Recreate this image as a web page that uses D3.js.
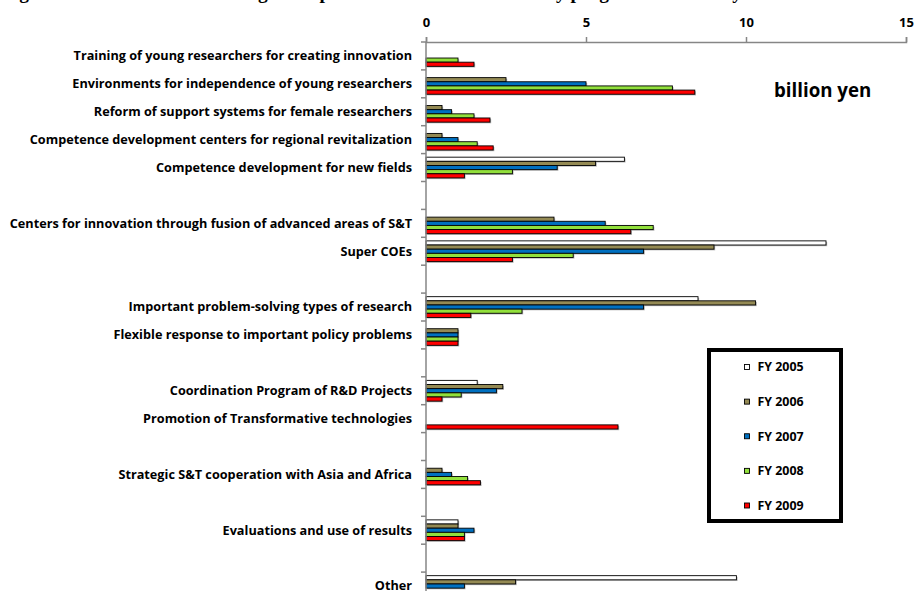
<!DOCTYPE html>
<html>
<head>
<meta charset="utf-8">
<script src="https://cdn.jsdelivr.net/npm/d3@7"></script>
<style>
  html, body { margin: 0; padding: 0; background: #fff; }
  svg { display: block; }
</style>
</head>
<body>
<div id="chart"></div>
<script>
// Programs of the Special Coordination Funds (blank entries are spacer rows between groups)
const categories = [
  "Training of young researchers for creating innovation",
  "Environments for independence of young researchers",
  "Reform of support systems for female researchers",
  "Competence development centers for regional revitalization",
  "Competence development for new fields",
  "",
  "Centers for innovation through fusion of advanced areas of S&T",
  "Super COEs",
  "",
  "Important problem-solving types of research",
  "Flexible response to important policy problems",
  "",
  "Coordination Program of R&D Projects",
  "Promotion of Transformative technologies",
  "",
  "Strategic S&T cooperation with Asia and Africa",
  "",
  "Evaluations and use of results",
  "",
  "Other"
];

// Budget per fiscal year, billion yen (null = no bar)
const fy2005 = [null, null, null, null, 6.2, null, null, 12.5, null, 8.5, null, null, 1.6, null, null, null, null, 1.0, null, 9.7];
const fy2006 = [null, 2.5, 0.5, 0.5, 5.3, null, 4.0, 9.0, null, 10.3, 1.0, null, 2.4, null, null, 0.5, null, 1.0, null, 2.8];
const fy2007 = [null, 5.0, 0.8, 1.0, 4.1, null, 5.6, 6.8, null, 6.8, 1.0, null, 2.2, null, null, 0.8, null, 1.5, null, 1.2];
const fy2008 = [1.0, 7.7, 1.5, 1.6, 2.7, null, 7.1, 4.6, null, 3.0, 1.0, null, 1.1, null, null, 1.3, null, 1.2, null, null];
const fy2009 = [1.5, 8.4, 2.0, 2.1, 1.2, null, 6.4, 2.7, null, 1.4, 1.0, null, 0.5, 6.0, null, 1.7, null, 1.2, null, null];

const seriesNames = ["FY 2005", "FY 2006", "FY 2007", "FY 2008", "FY 2009"];
const seriesColors = ["#ffffff", "#948a54", "#0070c0", "#92e03c", "#ff0000"];
const xTicks = [0, 5, 10, 15];

const titleText = "Figure 3-2: Distribution of budget of Special Coordination Funds by program and fiscal year";
const unitText = "billion yen";

const W = 918, H = 591;
const font = "'Open Sans', Lato, sans-serif";

const svg = d3.select("#chart").append("svg")
  .attr("width", W).attr("height", H);

const seriesData = [fy2005, fy2006, fy2007, fy2008, fy2009];

const x = d3.scaleLinear().domain([0, 15]).range([426, 906]);
const y0 = d3.scaleBand().domain(d3.range(categories.length)).range([42, 600]).padding(0);
const y1 = d3.scaleBand().domain(d3.range(seriesNames.length))
  .range([y0.bandwidth() * 0.128, y0.bandwidth() * (1 - 0.128)]).padding(0);

// Title (runs off the top edge)
svg.append("text")
  .attr("x", 2).attr("y", -1)
  .attr("font-family", "'Liberation Serif', 'Times New Roman', serif")
  .attr("font-weight", "bold").attr("font-size", 19.4)
  .attr("fill", "#000")
  .text(titleText);

// Bars
const rows = [];
categories.forEach((c, i) => {
  seriesData.forEach((s, j) => {
    if (s[i] != null && s[i] > 0) rows.push({ i, j, v: s[i] });
  });
});

const gBars = svg.append("g");
gBars.selectAll("rect.shadow").data(rows).join("rect")
  .attr("class", "shadow")
  .attr("x", x(0) + 1.2)
  .attr("y", d => y0(d.i) + y1(d.j) + 1.2)
  .attr("width", d => x(d.v) - x(0))
  .attr("height", y1.bandwidth())
  .attr("fill", "#000").attr("opacity", 0.28);

gBars.selectAll("rect.bar").data(rows).join("rect")
  .attr("class", "bar")
  .attr("x", x(0))
  .attr("y", d => y0(d.i) + y1(d.j))
  .attr("width", d => x(d.v) - x(0))
  .attr("height", y1.bandwidth())
  .attr("fill", d => seriesColors[d.j])
  .attr("stroke", "#000").attr("stroke-width", 0.9);

// Top value axis
const xAxis = d3.axisTop(x).tickValues(xTicks).tickSize(5).tickFormat(d3.format("d"));
const gx = svg.append("g").attr("transform", "translate(0,42)").call(xAxis);
gx.select(".domain").attr("stroke", "#868686").attr("stroke-width", 1.5);
gx.selectAll(".tick line").attr("stroke", "#868686").attr("stroke-width", 1.5);
gx.selectAll(".tick text")
  .attr("y", -24).attr("dy", "0.71em")
  .attr("font-family", font).attr("font-weight", "bold").attr("font-size", 13)
  .attr("fill", "#000");

// Category axis on the left
const yAxisLine = svg.append("g");
yAxisLine.append("line")
  .attr("x1", x(0)).attr("x2", x(0))
  .attr("y1", 42).attr("y2", 600)
  .attr("stroke", "#868686").attr("stroke-width", 1.5);
yAxisLine.selectAll("line.tk").data(d3.range(categories.length + 1)).join("line")
  .attr("class", "tk")
  .attr("x1", x(0) - 5).attr("x2", x(0))
  .attr("y1", d => 42 + d * y0.bandwidth())
  .attr("y2", d => 42 + d * y0.bandwidth())
  .attr("stroke", "#868686").attr("stroke-width", 1.5);

svg.append("g").selectAll("text").data(categories).join("text")
  .attr("x", 412)
  .attr("y", (d, i) => y0(i) + y0.bandwidth() / 2)
  .attr("dy", "0.35em")
  .attr("text-anchor", "end")
  .attr("font-family", font).attr("font-weight", "bold").attr("font-size", 12.7)
  .attr("fill", "#000")
  .text(d => d);

// Unit label
svg.append("text")
  .attr("x", 774).attr("y", 97)
  .attr("font-family", font).attr("font-weight", "bold").attr("font-size", 18.7)
  .attr("fill", "#000")
  .text(unitText);

// Legend
const lg = svg.append("g");
lg.append("rect")
  .attr("x", 709).attr("y", 350).attr("width", 132).attr("height", 171)
  .attr("fill", "#fff").attr("stroke", "#000").attr("stroke-width", 4);
const ly = d3.scalePoint().domain(d3.range(seriesNames.length)).range([367, 505.5]);
const items = lg.selectAll("g.item").data(seriesNames).join("g")
  .attr("class", "item")
  .attr("transform", (d, i) => `translate(0,${ly(i)})`);
items.append("rect")
  .attr("x", 744.5).attr("y", -2.5).attr("width", 5).attr("height", 5)
  .attr("fill", (d, i) => seriesColors[i])
  .attr("stroke", "#000").attr("stroke-width", 0.9);
items.append("text")
  .attr("x", 757.5).attr("y", 0).attr("dy", "0.35em")
  .attr("font-family", font).attr("font-weight", "bold").attr("font-size", 12.4)
  .attr("fill", "#000")
  .text(d => d);
</script>
</body>
</html>
